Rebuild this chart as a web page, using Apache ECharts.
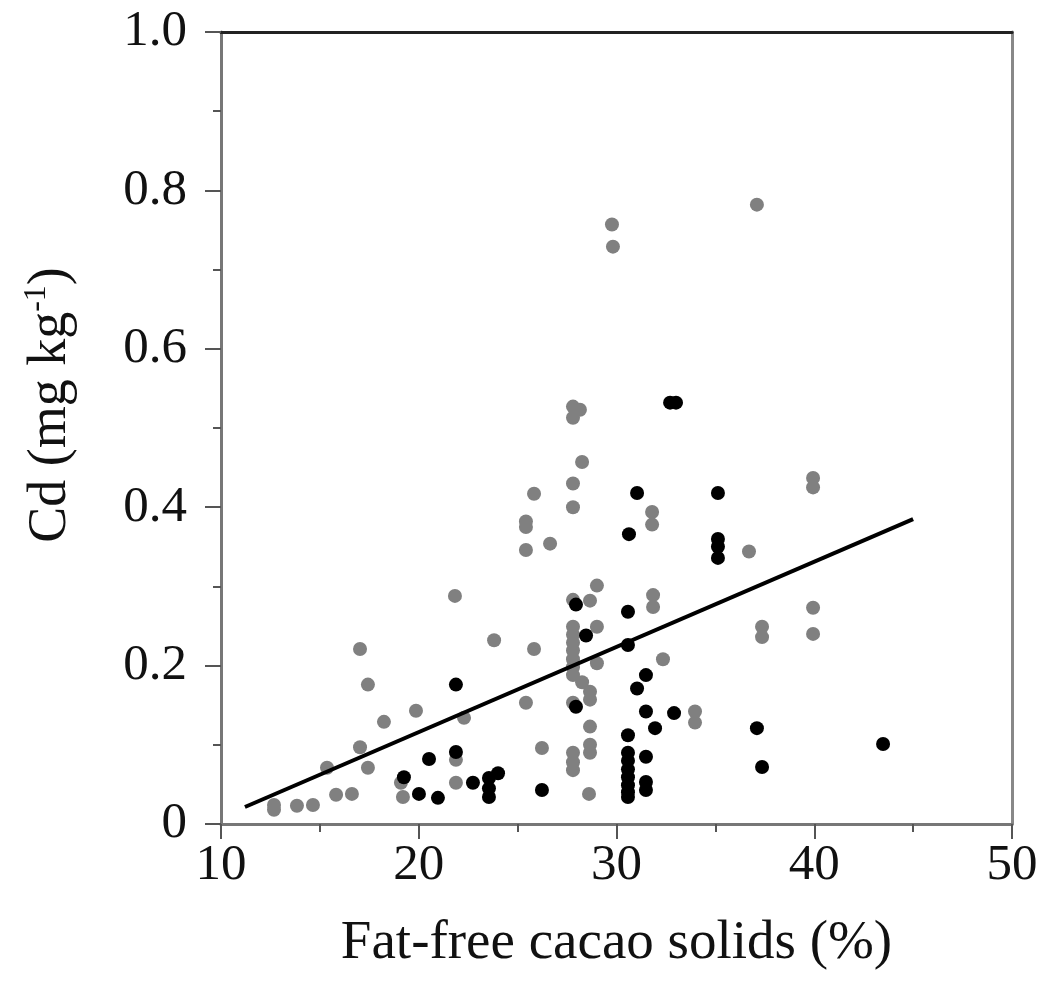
<!DOCTYPE html>
<html>
<head>
<meta charset="utf-8">
<script src="https://cdn.jsdelivr.net/npm/echarts@6/dist/echarts.min.js"></script>
<style>
  html, body { margin: 0; padding: 0; background: #fff; }
  #chart { width: 1044px; height: 982px; }
</style>
</head>
<body>
<div id="chart"></div>
<script>
// grey dots: [fat-free cacao solids %, Cd mg/kg]
var greyPoints = [
  [12.68, 0.024], [12.68, 0.018], [13.84, 0.023], [14.65, 0.024], [15.82, 0.037],
  [16.62, 0.038], [17.03, 0.221], [17.43, 0.176], [17.03, 0.097], [17.43, 0.071],
  [15.36, 0.071], [18.24, 0.129], [19.86, 0.143], [19.20, 0.034], [19.10, 0.052],
  [21.83, 0.288], [23.81, 0.232], [22.29, 0.134], [21.88, 0.081], [21.88, 0.052],
  [27.80, 0.527], [28.15, 0.523], [27.80, 0.513], [28.26, 0.457], [27.80, 0.430],
  [27.80, 0.400], [25.83, 0.417], [25.42, 0.382], [25.42, 0.375], [25.42, 0.346],
  [26.64, 0.354], [31.80, 0.394], [31.80, 0.378], [29.01, 0.301], [28.66, 0.282],
  [29.01, 0.249], [27.80, 0.283],
  [27.80, 0.249], [27.80, 0.239], [27.80, 0.229], [27.80, 0.219], [27.80, 0.208],
  [27.80, 0.198], [27.80, 0.188],
  [25.83, 0.221], [31.85, 0.289], [31.85, 0.274], [29.01, 0.203], [28.26, 0.179],
  [32.35, 0.208], [28.66, 0.167], [28.66, 0.157], [25.42, 0.153], [27.80, 0.153],
  [33.97, 0.142], [33.97, 0.128], [28.66, 0.123], [28.66, 0.100], [28.66, 0.090],
  [26.23, 0.096], [27.80, 0.090], [27.80, 0.078], [27.80, 0.068], [28.61, 0.038],
  [29.77, 0.757], [29.82, 0.729], [37.10, 0.782], [39.94, 0.437], [39.94, 0.425],
  [36.70, 0.344], [37.36, 0.249], [37.36, 0.236], [39.94, 0.273], [39.94, 0.240]
];
// black dots
var blackPoints = [
  [19.25, 0.059], [20.01, 0.038], [20.97, 0.033], [20.52, 0.082], [21.88, 0.176],
  [21.88, 0.091], [22.74, 0.052], [24.01, 0.064], [23.55, 0.058], [23.55, 0.045],
  [23.55, 0.034], [32.71, 0.532], [33.01, 0.532], [31.04, 0.418], [35.13, 0.418],
  [30.63, 0.366], [35.13, 0.360], [35.13, 0.350], [35.13, 0.336], [27.95, 0.277],
  [30.58, 0.268], [28.46, 0.238], [30.58, 0.226], [31.49, 0.188], [31.04, 0.171],
  [27.95, 0.148], [31.49, 0.142], [32.91, 0.140], [31.95, 0.121], [30.58, 0.112],
  [30.58, 0.090], [30.58, 0.080], [30.58, 0.069], [30.58, 0.059], [30.58, 0.049],
  [30.58, 0.040], [30.58, 0.034],
  [31.49, 0.085], [31.49, 0.053], [31.49, 0.043], [26.23, 0.043], [37.10, 0.121],
  [37.36, 0.072], [43.48, 0.101]
];
// regression line ends
var fitLine = [[11.21, 0.0215], [45.0, 0.385]];

var xTitle = 'Fat-free cacao solids (%)';
var yTitle = '{n|Cd (mg kg}{s|-1}{n|)}';

var serif = "'Liberation Serif', 'Times New Roman', serif";
var chart = echarts.init(document.getElementById('chart'));

var option = {
  animation: false,
  grid: { left: 221, right: 32, top: 32, bottom: 158 },
  xAxis: [{
    type: 'value', min: 10, max: 50, interval: 10,
    name: xTitle, nameLocation: 'middle', nameGap: 92,
    nameTextStyle: { fontFamily: serif, fontSize: 55, color: '#111' },
    axisLine: { onZero: false, lineStyle: { color: '#777', width: 3 } },
    axisTick: { show: true, length: 15, inside: false, lineStyle: { color: '#555', width: 2 } },
    minorTick: { show: true, splitNumber: 2, length: 8, lineStyle: { color: '#555', width: 2 } },
    axisLabel: { fontFamily: serif, fontSize: 51, color: '#111', margin: 16 },
    splitLine: { show: false }
  }, {
    type: 'value', position: 'top', min: 10, max: 50,
    axisLine: { show: true, onZero: false, lineStyle: { color: '#222', width: 3 } },
    axisTick: { show: false }, axisLabel: { show: false }, splitLine: { show: false }
  }],
  yAxis: [{
    type: 'value', min: 0, max: 1, interval: 0.2,
    name: yTitle, nameLocation: 'middle', nameGap: 140,
    nameTextStyle: {
      fontFamily: serif, color: '#111', padding: [0, 0, 0, 46],
      rich: {
        n: { fontFamily: serif, fontSize: 54, color: '#111', lineHeight: 60 },
        s: { fontFamily: serif, fontSize: 32, color: '#111', verticalAlign: 'top', lineHeight: 60 }
      }
    },
    axisLine: { show: true, onZero: false, lineStyle: { color: '#777', width: 3 } },
    axisTick: { show: true, length: 16, lineStyle: { color: '#555', width: 2 } },
    minorTick: { show: true, splitNumber: 2, length: 8, lineStyle: { color: '#555', width: 2 } },
    axisLabel: {
      fontFamily: serif, fontSize: 51, color: '#111', margin: 34,
      formatter: function (v) { return v === 0 ? '0' : v.toFixed(1); }
    },
    splitLine: { show: false }
  }, {
    type: 'value', position: 'right', min: 0, max: 1,
    axisLine: { show: true, onZero: false, lineStyle: { color: '#888', width: 3 } },
    axisTick: { show: false }, axisLabel: { show: false }, splitLine: { show: false }
  }],
  series: [
    {
      type: 'scatter', data: greyPoints, symbolSize: 14,
      itemStyle: { color: '#808080', opacity: 1 }
    },
    {
      type: 'scatter', data: blackPoints, symbolSize: 14,
      itemStyle: { color: '#000', opacity: 1 }
    },
    {
      type: 'line', data: fitLine, showSymbol: false, symbol: 'none',
      lineStyle: { color: '#000', width: 4 }, z: 5
    }
  ]
};
chart.setOption(option);
</script>
</body>
</html>
